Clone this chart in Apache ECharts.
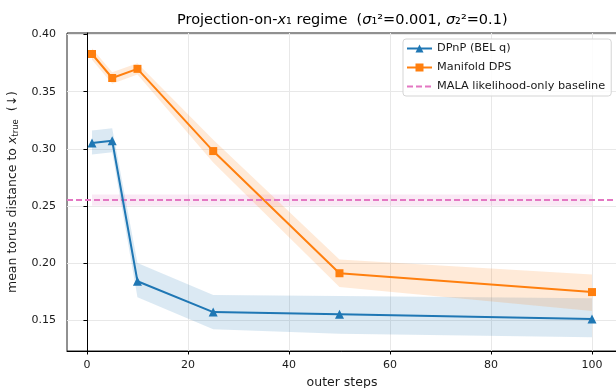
<!DOCTYPE html>
<html>
<head>
<meta charset="utf-8">
<script src="https://cdn.jsdelivr.net/npm/echarts@6/dist/echarts.min.js"></script>
<style>
html, body { margin: 0; padding: 0; background: #fff; }
#chart { width: 616px; height: 388px; }
</style>
</head>
<body>
<div id="chart"></div>
<script>
// outer steps on x
const steps = [1, 5, 10, 25, 50, 100];

// DPnP (BEL q)
const dpnpMean = [0.305, 0.307, 0.184, 0.157, 0.155, 0.151];
const dpnpLow  = [0.295, 0.297, 0.170, 0.142, 0.138, 0.135];
const dpnpHigh = [0.316, 0.318, 0.200, 0.172, 0.171, 0.169];

// Manifold DPS
const dpsMean = [0.383, 0.362, 0.370, 0.298, 0.191, 0.1745];
const dpsLow  = [0.378, 0.357, 0.365, 0.288, 0.179, 0.158];
const dpsHigh = [0.388, 0.367, 0.375, 0.308, 0.203, 0.190];

// MALA baseline
const malaValue = 0.255;
const malaSteps = [1, 100];
const malaLow  = [0.250, 0.250];
const malaHigh = [0.260, 0.260];

const xTicks = [0, 20, 40, 60, 80, 100];
const yTicks = [0.15, 0.20, 0.25, 0.30, 0.35, 0.40];

const BLUE = '#1f77b4', ORANGE = '#ff7f0e', PINK = '#e377c2';
const FONT = 'DejaVu Sans';

function pairs(xs, ys) {
  return xs.map((x, i) => [x, ys[i]]);
}

// shaded band between low and high, drawn as one polygon
function band(xs, low, high, fill) {
  return {
    type: 'custom', silent: true, z: 1,
    data: xs.map((x, i) => [x, low[i], high[i]]),
    encode: { x: 0, y: [1, 2] },
    renderItem: (params, api) => {
      if (params.dataIndex !== 0) return null;
      const top = xs.map((x, i) => api.coord([x, high[i]]));
      const bottom = xs.map((x, i) => api.coord([x, low[i]])).reverse();
      return { type: 'polygon', shape: { points: top.concat(bottom) }, style: { fill: fill } };
    }
  };
}

const chart = echarts.init(document.getElementById('chart'));

const option = {
  animation: false,
  textStyle: { fontFamily: FONT },
  title: {
    text: 'Projection-on-{it|x}₁ regime  ({it|σ}₁²=0.001, {it|σ}₂²=0.1)',
    left: 172, top: 8,
    textStyle: {
      fontFamily: FONT, fontSize: 14.5, fontWeight: 'normal', color: '#000',
      rich: { it: { fontFamily: FONT, fontSize: 14.5, fontStyle: 'italic', color: '#000' } }
    }
  },
  legend: {
    orient: 'vertical',
    left: 403, top: 39,
    padding: [4, 6, 4, 3],
    itemWidth: 25, itemHeight: 10, itemGap: 8,
    backgroundColor: 'rgba(255,255,255,0.85)',
    borderColor: '#d5d5d5', borderWidth: 1, borderRadius: 3,
    data: [
      'DPnP (BEL q)',
      'Manifold DPS',
      { name: 'MALA likelihood-only baseline', itemStyle: { opacity: 0 } }
    ],
    textStyle: { fontFamily: FONT, fontSize: 11.3, color: '#1a1a1a' }
  },
  grid: {
    left: 67, top: 33, width: 550, height: 318,
    outerBoundsMode: 'none', containLabel: false,
    show: true, borderColor: '#222', borderWidth: 1
  },
  xAxis: {
    type: 'value', min: -3.95, max: 104.95,
    name: 'outer steps', nameLocation: 'middle', nameGap: 25,
    nameTextStyle: { fontFamily: FONT, fontSize: 12.5, color: '#1a1a1a' },
    axisLine: { lineStyle: { color: '#000' } },
    axisTick: { customValues: xTicks, length: 3.5, lineStyle: { color: '#000' } },
    axisLabel: { customValues: xTicks, margin: 9, fontFamily: FONT, fontSize: 11, color: '#1a1a1a' },
    splitLine: { show: true, lineStyle: { color: '#e8e8e8' } }
  },
  yAxis: {
    type: 'value', min: 0.1229, max: 0.4014,
    name: 'mean torus distance to {it|x}{sub|true}  (↓)', nameLocation: 'middle', nameGap: 41,
    nameTextStyle: {
      fontFamily: FONT, fontSize: 12.5, color: '#1a1a1a', lineHeight: 15,
      rich: {
        it: { fontFamily: FONT, fontSize: 12.5, fontStyle: 'italic', color: '#1a1a1a', lineHeight: 15 },
        sub: { fontFamily: FONT, fontSize: 8.5, color: '#1a1a1a', lineHeight: 8, verticalAlign: 'bottom' }
      }
    },
    axisLine: { show: true, lineStyle: { color: '#000' } },
    axisTick: { show: true, customValues: yTicks, length: 3.5, lineStyle: { color: '#000' } },
    axisLabel: {
      customValues: yTicks, margin: 11, fontFamily: FONT, fontSize: 11, color: '#1a1a1a',
      formatter: v => v.toFixed(2)
    },
    splitLine: { show: true, lineStyle: { color: '#e8e8e8' } }
  },
  series: [
    band(malaSteps, malaLow, malaHigh, 'rgba(227,119,194,0.16)'),
    band(steps, dpnpLow, dpnpHigh, 'rgba(31,119,180,0.16)'),
    band(steps, dpsLow, dpsHigh, 'rgba(255,127,14,0.16)'),
    {
      name: 'MALA likelihood-only baseline', type: 'line', data: [],
      symbol: 'none', z: 3,
      itemStyle: { color: PINK },
      lineStyle: { color: PINK, width: 2, type: [6, 3] },
      markLine: {
        silent: true, precision: 4, symbol: ['none', 'none'], label: { show: false },
        lineStyle: { color: PINK, width: 2, type: [6, 3] },
        data: [{ yAxis: malaValue }]
      }
    },
    {
      name: 'Manifold DPS', type: 'line', data: pairs(steps, dpsMean),
      symbol: 'rect', symbolSize: 8, z: 4,
      itemStyle: { color: ORANGE }, lineStyle: { color: ORANGE, width: 2 }
    },
    {
      name: 'DPnP (BEL q)', type: 'line', data: pairs(steps, dpnpMean),
      symbol: 'triangle', symbolSize: 9, z: 5,
      itemStyle: { color: BLUE }, lineStyle: { color: BLUE, width: 2 }
    }
  ]
};

chart.setOption(option);
</script>
</body>
</html>
